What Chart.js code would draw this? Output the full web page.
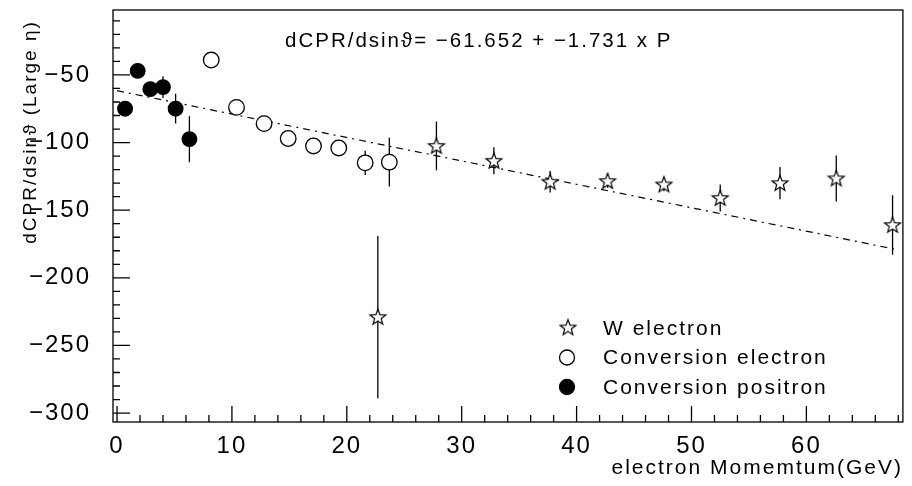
<!DOCTYPE html>
<html>
<head>
<meta charset="utf-8">
<script src="https://cdn.jsdelivr.net/npm/chart.js@4/dist/chart.umd.min.js"></script>
<style>
  html, body { margin: 0; background: #fff; }
</style>
</head>
<body>
<canvas id="grafico" width="912" height="486"></canvas>
<script>
// W electron (stars)
const wMomento = [22.7, 27.8, 32.8, 37.7, 42.7, 47.6, 52.5, 57.7, 62.6, 67.5];
const wValor   = [-229, -102.5, -113.5, -129, -128.5, -131, -141, -130, -126.5, -161];
const wErro    = [60, 18, 10, 8, 5, 5, 10, 12, 17, 22];

// Conversion electron (open circles)
const eletronMomento = [8.2, 10.4, 12.8, 14.9, 17.1, 19.3, 21.6, 23.7];
const eletronValor   = [-39, -74, -86, -97, -102.5, -104, -115, -114.5];
const eletronErro    = [4, 4, 4, 4, 4, 5, 9, 18];

// Conversion positron (filled circles)
const positronMomento = [0.7, 1.8, 2.9, 4.0, 5.1, 6.3];
const positronValor   = [-75, -47, -60.5, -59, -75, -97.5];
const positronErro    = [4, 4, 5, 8, 11, 17];

// reta do ajuste: dCPR/dsin = -61.652 + -1.731 x P
const ajusteMomento = [0, 68];
const ajusteValor   = [-61.652, -179.36];

const xTicks = [0, 10, 20, 30, 40, 50, 60];
const yTicks = [-300, -250, -200, -150, -100, -50];
const xMin = -0.35, xMax = 68.4;
const yMin = -306.6, yMax = -2;

const fonte = "'Liberation Sans', Arial, sans-serif";
const espaco = '2px';
const pontos = (xs, ys) => xs.map((x, i) => ({x: x, y: ys[i]}));

// estrela vazada usada como pointStyle
function desenharEstrela(ctx, cx, cy, r) {
    ctx.beginPath();
    for (let i = 0; i < 10; i++) {
        const rr = i % 2 === 0 ? r : r * 0.42;
        const a = -Math.PI / 2 + i * Math.PI / 5;
        const px = cx + rr * Math.cos(a), py = cy + rr * Math.sin(a);
        i === 0 ? ctx.moveTo(px, py) : ctx.lineTo(px, py);
    }
    ctx.closePath();
    ctx.fillStyle = '#fff';
    ctx.fill();
    ctx.strokeStyle = '#000';
    ctx.lineWidth = 1.2;
    ctx.stroke();
}
const estrela = document.createElement('canvas');
estrela.width = 20; estrela.height = 20;
desenharEstrela(estrela.getContext('2d'), 10, 10.5, 8.3);

const comErro = [
    {valores: wValor, erros: wErro, momentos: wMomento},
    {valores: eletronValor, erros: eletronErro, momentos: eletronMomento},
    {valores: positronValor, erros: positronErro, momentos: positronMomento}
];

// espacamento das letras (o texto do original e bem largo)
const espacamento = {
    id: 'espacamento',
    beforeLayout(chart) { chart.ctx.letterSpacing = espaco; },
    beforeDraw(chart) { chart.ctx.letterSpacing = espaco; }
};

const barrasErro = {
    id: 'barrasErro',
    beforeDatasetsDraw(chart) {
        const {ctx, scales: {x, y}} = chart;
        ctx.save();
        ctx.strokeStyle = '#000';
        ctx.lineWidth = 1.3;
        ctx.beginPath();
        comErro.forEach((s) => {
            s.momentos.forEach((m, i) => {
                const px = x.getPixelForValue(m);
                ctx.moveTo(px, y.getPixelForValue(s.valores[i] + s.erros[i]));
                ctx.lineTo(px, y.getPixelForValue(s.valores[i] - s.erros[i]));
            });
        });
        ctx.stroke();
        ctx.restore();
    }
};

const moldura = {
    id: 'moldura',
    afterDraw(chart) {
        const {ctx, chartArea: a, scales: {x, y}} = chart;
        ctx.save();
        ctx.letterSpacing = espaco;
        ctx.strokeStyle = '#000';
        ctx.lineWidth = 1.3;
        ctx.strokeRect(a.left, a.top, a.right - a.left, a.bottom - a.top);

        // ticks para dentro
        ctx.beginPath();
        for (let v = 0; v <= xMax; v += 2) {
            const px = x.getPixelForValue(v);
            const len = v % 10 === 0 ? 16 : 7;
            ctx.moveTo(px, a.bottom);
            ctx.lineTo(px, a.bottom - len);
        }
        for (let v = -300; v <= yMax; v += 10) {
            const py = y.getPixelForValue(v);
            const len = v % 50 === 0 ? 17 : 7;
            ctx.moveTo(a.left, py);
            ctx.lineTo(a.left + len, py);
        }
        ctx.stroke();

        // titulo do eixo y
        ctx.fillStyle = '#000';
        ctx.font = '19px ' + fonte;
        ctx.translate(31, 132);
        ctx.rotate(-Math.PI / 2);
        ctx.textAlign = 'center';
        ctx.textBaseline = 'middle';
        ctx.fillText('dCPR/dsinϑ (Large η)', 0, 0);
        ctx.setTransform(1, 0, 0, 1, 0, 0);

        // formula do ajuste
        ctx.textAlign = 'left';
        ctx.font = '20.5px ' + fonte;
        ctx.fillText('dCPR/dsinϑ= −61.652 + −1.731 x P', 285, 41);

        // legenda
        ctx.font = '21px ' + fonte;
        const legenda = [
            {texto: 'W electron', tipo: 'estrela'},
            {texto: 'Conversion electron', tipo: 'aberto'},
            {texto: 'Conversion positron', tipo: 'cheio'}
        ];
        legenda.forEach((item, i) => {
            const ly = 328 + i * 29.5;
            if (item.tipo === 'estrela') {
                ctx.drawImage(estrela, 558, ly - 10.5);
            } else {
                ctx.beginPath();
                ctx.arc(567, ly, 7.5, 0, Math.PI * 2);
                ctx.fillStyle = item.tipo === 'cheio' ? '#000' : '#fff';
                ctx.fill();
                ctx.lineWidth = 1.3;
                ctx.stroke();
            }
            ctx.fillStyle = '#000';
            ctx.fillText(item.texto, 603, ly + 1);
        });
        ctx.restore();
    }
};

const menos = (v) => String(v).replace('-', '−');

new Chart(document.getElementById('grafico'), {
    type: 'scatter',
    data: {
        datasets: [
            {
                label: 'W electron',
                data: pontos(wMomento, wValor),
                pointStyle: estrela,
                order: 1
            },
            {
                label: 'Conversion electron',
                data: pontos(eletronMomento, eletronValor),
                pointStyle: 'circle',
                pointRadius: 7.8,
                backgroundColor: '#fff',
                borderColor: '#000',
                borderWidth: 1.3,
                order: 2
            },
            {
                label: 'Conversion positron',
                data: pontos(positronMomento, positronValor),
                pointStyle: 'circle',
                pointRadius: 7.3,
                backgroundColor: '#000',
                borderColor: '#000',
                borderWidth: 1.3,
                order: 3
            },
            {
                type: 'line',
                label: 'ajuste',
                data: pontos(ajusteMomento, ajusteValor),
                showLine: true,
                borderColor: '#000',
                borderWidth: 1.2,
                borderDash: [7, 5, 2, 5],
                pointRadius: 0,
                order: 10
            }
        ]
    },
    options: {
        responsive: false,
        animation: false,
        layout: { padding: { left: 0, right: 5, top: 10, bottom: 0 } },
        plugins: { legend: { display: false }, tooltip: { enabled: false } },
        scales: {
            x: {
                type: 'linear',
                min: xMin,
                max: xMax,
                grid: { display: false },
                border: { display: false },
                afterBuildTicks: (s) => { s.ticks = xTicks.map((v) => ({value: v})); },
                afterFit: (s) => { s.height = 64; s.paddingLeft = 0; s.paddingRight = 0; },
                ticks: {
                    color: '#000',
                    padding: 2,
                    font: { family: fonte, size: 24 },
                    callback: (v) => menos(v)
                },
                title: {
                    display: true,
                    text: 'electron Momemtum(GeV)',
                    align: 'end',
                    color: '#000',
                    font: { family: fonte, size: 21 },
                    padding: { top: 0, bottom: 5 }
                }
            },
            y: {
                type: 'linear',
                min: yMin,
                max: yMax,
                grid: { display: false },
                border: { display: false },
                afterBuildTicks: (s) => { s.ticks = yTicks.map((v) => ({value: v})); },
                afterFit: (s) => { s.width = 113; s.paddingTop = 0; s.paddingBottom = 0; },
                ticks: {
                    color: '#000',
                    padding: 14,
                    font: { family: fonte, size: 24 },
                    callback: (v) => menos(v)
                }
            }
        }
    },
    plugins: [espacamento, barrasErro, moldura]
});
</script>
</body>
</html>
